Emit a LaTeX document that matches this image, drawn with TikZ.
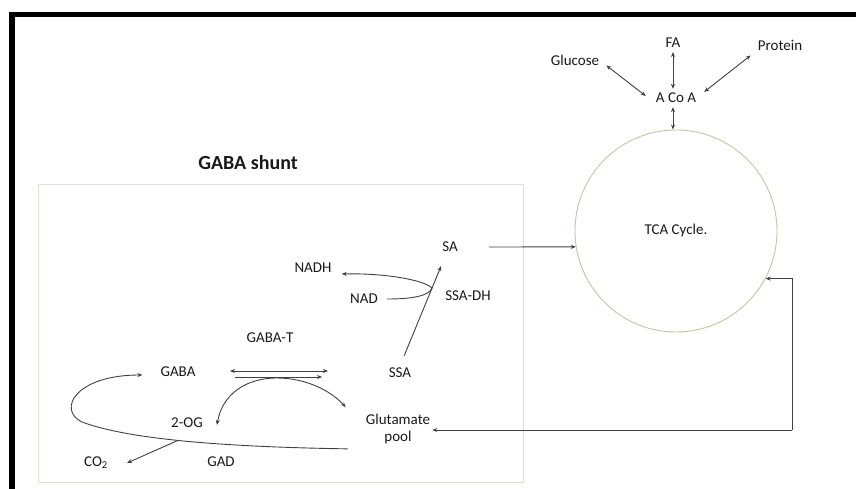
\documentclass[tikz,border=0pt]{standalone}
\usepackage{fontspec}
\setmainfont{Carlito}
\usetikzlibrary{arrows.meta,calc}

\definecolor{rimline}{RGB}{198,196,160}
\definecolor{boxline}{RGB}{220,224,204}

\begin{document}
\begin{tikzpicture}[x=1pt,y=-1pt,
    lbl/.style={font=\fontsize{15}{16.5}\selectfont, text=black!90, inner sep=2pt},
    flow/.style={draw=black!75, line width=0.9pt},
    >={Stealth[length=5pt,width=4pt]}]
    \useasboundingbox (0,0) rectangle (856,489);

    % Frame (top and left edges only)
    \fill[black] (9,12.5) rectangle (856,17.5);
    \fill[black] (9,12.5) rectangle (15,489);

    % Acetyl CoA and its sources
    \node[lbl] (glucose) at (575,60) {Glucose};
    \node[lbl] (fa) at (673,43) {FA};
    \node[lbl] (protein) at (780,45) {Protein};
    \node[lbl] (acoa) at (676,98) {A Co A};
    \draw[flow,<->] ([xshift=5pt,yshift=2pt]glucose.south east) -- ([xshift=-8pt,yshift=2pt]acoa.west);
    \draw[flow,<->] ([yshift=-2pt]fa.south) -- ([yshift=2pt]fa.south |- acoa.north);
    \draw[flow,<->] ([xshift=-5pt,yshift=-3pt]protein.south west) -- ([xshift=6pt,yshift=-1pt]acoa.north east);

    % TCA cycle
    \node[circle, draw=rimline, line width=0.9pt, minimum size=202pt, lbl] (tca) at (676,231) {TCA Cycle.};
    \draw[flow,<->] ([xshift=-3pt,yshift=-2pt]acoa.south) -- ([xshift=-3pt]acoa.south |- tca.north);

    % GABA shunt box
    \node[font=\bfseries\fontsize{20}{24}\selectfont, text=black!90] (title) at (248,163) {GABA shunt};
    \draw[draw=boxline, line width=1pt] (38,185) rectangle (523,482);

    % Metabolites
    \node[lbl] (sa) at (450,247) {SA};
    \node[lbl] (nadh) at (313,268) {NADH};
    \node[lbl] (nad) at (364,299) {NAD};
    \node[lbl] (ssadh) at (468,296) {SSA-DH};
    \node[lbl] (ssa) at (400,373) {SSA};
    \node[lbl] (gabat) at (270,338) {GABA-T};
    \node[lbl] (gaba) at (178,372) {GABA};
    \node[lbl] (twoog) at (187,423) {2-OG};
    \node[lbl, align=center] (glut) at (398,429) {Glutamate\\pool};
    \node[lbl] (co2) at (96,463) {CO\textsubscript{2}};
    \node[lbl] (gad) at (221,462) {GAD};

    % SSA -> SA, NAD -> NADH
    \coordinate (dh) at (432,288);
    \draw[flow,->,shorten <=11pt,shorten >=13pt] (ssa.north) -- ([xshift=-4pt]sa.south);
    \draw[flow,->] ([xshift=7pt]nad.east) .. controls (412,299) and (429,296) .. (dh)
        .. controls (424,280) and (385,273) .. ([xshift=8pt,yshift=-6pt]nadh.east);
    \draw[flow,->] ([xshift=29pt]sa.east) -- (tca.189);

    % GABA-T
    \coordinate (tA) at (230,371);
    \coordinate (tB) at (328,371);
    \coordinate (bA) at (235,377);
    \coordinate (bB) at (322,377);
    \draw[flow,<->] (tA) -- (tB);
    \draw[flow,->] (bA) -- (bB);
    \draw[flow,<->] ([xshift=12pt,yshift=-2pt]twoog.east) .. controls (222,395) and (245,378) .. (277,378)
        .. controls (305,378) and (330,390) .. ([xshift=-18pt,yshift=5pt]glut.north west);

    % GAD loop
    \draw[flow,->] ([xshift=-16pt,yshift=-3pt]glut.south west) .. controls (230,447) and (130,440) .. coordinate[pos=0.54] (gadpt) (82,422)
        .. controls (57,410) and (75,375) .. ([xshift=-16pt,yshift=-3pt]gaba.west);
    \draw[flow,->] (gadpt) -- ([xshift=17pt]co2.east);

    % Back to glutamate pool
    \coordinate (corner) at (792,430);
    \draw[flow,->] (corner) |- (tca.332);
    \draw[flow,->] (corner) -- (glut.east |- corner);
\end{tikzpicture}
\end{document}
